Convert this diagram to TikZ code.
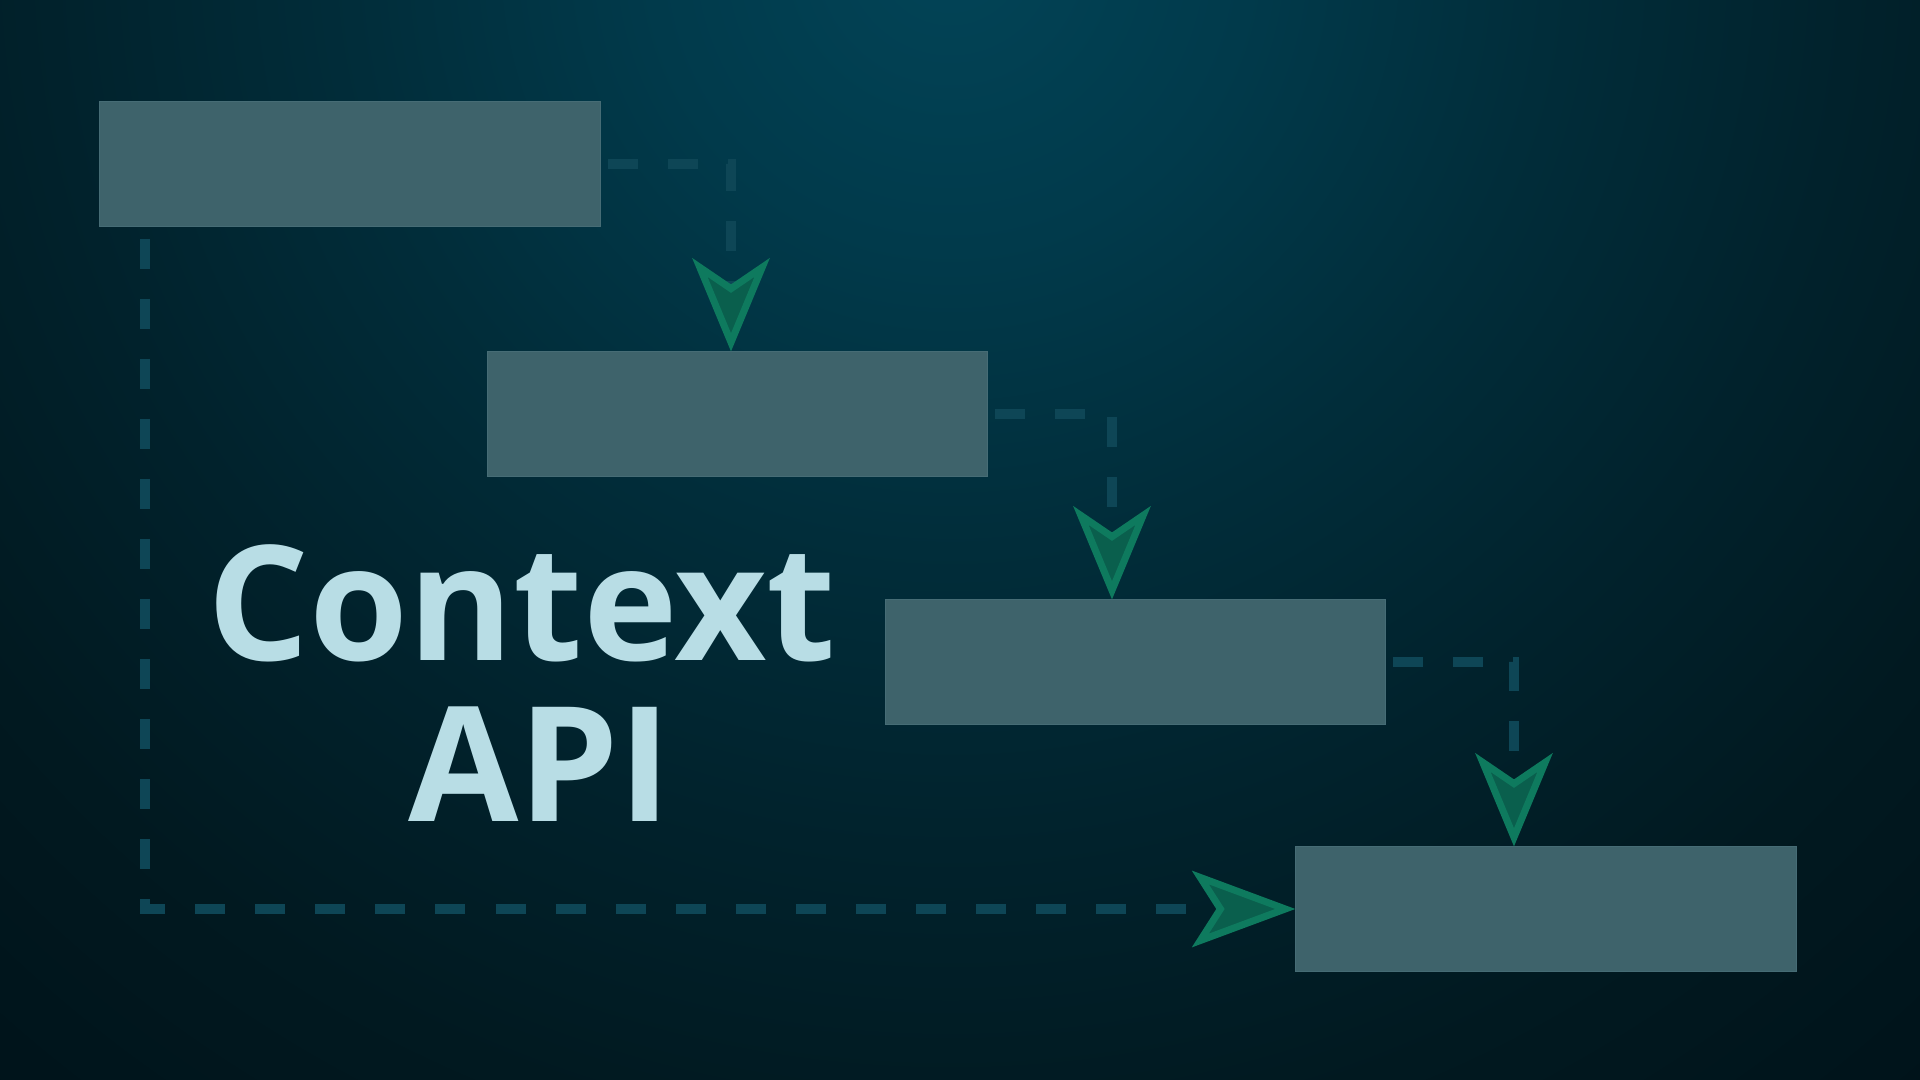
\documentclass[tikz,border=0pt]{standalone}
\usepackage{fontspec}
\IfFontExistsTF{Noto Sans Bold}
  {\newfontfamily\titlefont{Noto Sans Bold}}
  {\IfFontExistsTF{Open Sans Bold}
    {\newfontfamily\titlefont{Open Sans Bold}}
    {\newfontfamily\titlefont{DejaVu Sans Bold}}}
\usetikzlibrary{arrows.meta}
\definecolor{bgA}{HTML}{024457}
\definecolor{bgB}{HTML}{013A4B}
\definecolor{bgC}{HTML}{012D3A}
\definecolor{bgD}{HTML}{01222C}
\definecolor{bgE}{HTML}{011920}
\definecolor{bgF}{HTML}{00131A}
\definecolor{boxfill}{HTML}{3E636B}
\definecolor{boxline}{HTML}{466C75}
\definecolor{dashcol}{HTML}{0E4656}
\definecolor{tipline}{HTML}{0E7A5E}
\definecolor{tipfill}{HTML}{0A5F4D}
\definecolor{titlecol}{HTML}{B8DDE5}
\pgfdeclareradialshading{bgrad}{\pgfpoint{0bp}{0bp}}{%
  color(0bp)=(bgA); color(5bp)=(bgB); color(10bp)=(bgC);
  color(15bp)=(bgD); color(20bp)=(bgE); color(25bp)=(bgF); color(50bp)=(bgF)}
\tikzset{
  box/.style={rectangle, fill=boxfill, draw=boxline, line width=0.1mm,
    minimum width=50mm, minimum height=12.4mm, inner sep=0pt},
  conn/.style={draw=dashcol, line width=1mm, dash pattern=on 3mm off 3mm},
  vtip/.style={-{Stealth[length=9.3mm, width=7.7mm, inset=2.6mm, line width=0.7mm, color=tipline, fill=tipfill]}},
  htip/.style={-{Stealth[length=10.3mm, width=7.6mm, inset=2.4mm, line width=0.7mm, color=tipline, fill=tipfill]}},
  title/.style={text=titlecol, inner sep=0pt, font=\titlefont\fontsize{45.5}{46}\selectfont}
}
\begin{document}
\begin{tikzpicture}[x=0.01cm, y=-0.01cm]
\useasboundingbox (0,0) rectangle (1920,1080);
\fill[bgF] (0,0) rectangle (1920,1080);
\begin{scope}
  \clip (0,0) rectangle (1920,1080);
  \shade[shading=bgrad] (950,-50) circle (1500);
\end{scope}

\node[box] (b1) at (350,164) {};
\node[box] (b2) at (737.5,414) {};
\node[box] (b3) at (1135.5,662) {};
\node[box] (b4) at (1546,909) {};

\draw[conn, vtip, dash phase=5.3mm] (b1.east) -| ([xshift=-0.65mm]b2.north);
\draw[conn, vtip, dash phase=5.3mm] (b2.east) -| ([xshift=-2.35mm]b3.north);
\draw[conn, vtip, dash phase=5.3mm] (b3.east) -| ([xshift=-3.2mm]b4.north);
\draw[conn, htip, dash phase=4.8mm] ([xshift=4.6mm]b1.south west) |- (b4.west);

\node[title, anchor=base] (t1) at (522,661) {Context};
\node[title, anchor=base] (t2) at (540,822) {API};
\end{tikzpicture}
\end{document}
